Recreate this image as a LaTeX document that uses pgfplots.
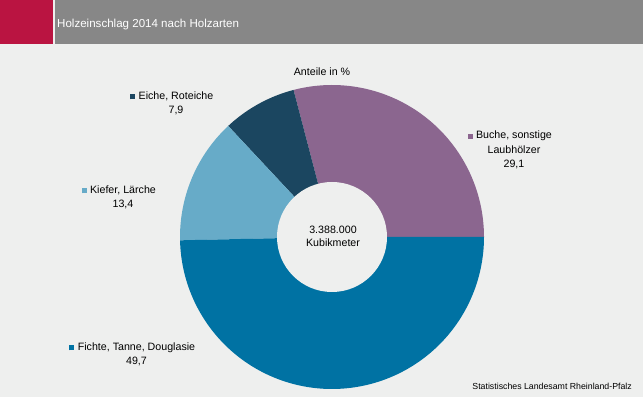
\documentclass[border=0pt]{standalone}
\usepackage{pgfplots}
\pgfplotsset{compat=1.18}
\usepackage{fontspec}
\setmainfont{Liberation Sans}
\definecolor{bg}{HTML}{EEEFEE}
\definecolor{hgrey}{HTML}{878787}
\definecolor{hred}{HTML}{BA1441}
\definecolor{cbuche}{HTML}{8B668F}
\definecolor{ceiche}{HTML}{1B4660}
\definecolor{ckiefer}{HTML}{67ABC8}
\definecolor{cfichte}{HTML}{0072A3}
\newcommand{\sq}[1]{\llap{\textcolor{#1}{\rule{5bp}{5bp}}\hspace{3.5bp}}}
\begin{document}
\begin{tikzpicture}
% shares in percent
\def\vBuche{29.1}
\def\vEiche{7.9}
\def\vKiefer{13.4}
\def\vFichte{49.7}
\pgfmathsetmacro{\tot}{\vBuche+\vEiche+\vKiefer+\vFichte}
\pgfmathsetmacro{\aA}{\vBuche/\tot*360}
\pgfmathsetmacro{\aB}{(\vBuche+\vEiche)/\tot*360}
\pgfmathsetmacro{\aC}{(\vBuche+\vEiche+\vKiefer)/\tot*360}
\begin{axis}[scale only axis, width=643bp, height=397bp,
  xmin=0, xmax=643, ymin=0, ymax=397, axis lines=none, ticks=none, clip=false]
\fill[bg] (0,0) rectangle (643,397);
\fill[hred] (0,353) rectangle (53,397);
\fill[hgrey] (55,353) rectangle (643,397);
\node[anchor=base west, text=white, font=\fontsize{11.6}{13}\selectfont, inner sep=0pt] at (57,369) {Holzeinschlag 2014 nach Holzarten};
% donut
\addplot[fill=cbuche, draw=none, domain=0:\aA, samples=80] ({332+152*cos(x)},{160+152*sin(x)}) -- (332,160) -- cycle;
\addplot[fill=ceiche, draw=none, domain=\aA:\aB, samples=40] ({332+152*cos(x)},{160+152*sin(x)}) -- (332,160) -- cycle;
\addplot[fill=ckiefer, draw=none, domain=\aB:\aC, samples=50] ({332+152*cos(x)},{160+152*sin(x)}) -- (332,160) -- cycle;
\addplot[fill=cfichte, draw=none, domain=\aC:360, samples=120] ({332+152*cos(x)},{160+152*sin(x)}) -- (332,160) -- cycle;
\fill[bg] (332,160) circle[radius=55bp];
% texts
\begin{scope}[every node/.style={font=\fontsize{10.7}{14.5}\selectfont, align=center, inner sep=0pt}]
\node at (322,325) {Anteile in \%};
\node at (176,293.5) {\sq{ceiche}Eiche, Roteiche\\7,9};
\node at (123,199.5) {\sq{ckiefer}Kiefer, Lärche\\13,4};
\node at (514,247) {\sq{cbuche}Buche, sonstige\\Laubhölzer\\29,1};
\node at (136.5,42.5) {\sq{cfichte}Fichte, Tanne, Douglasie\\49,7};
\node[font=\fontsize{10.7}{13}\selectfont] at (333,160.5) {3.388.000\\Kubikmeter};
\end{scope}
\node[anchor=base east, inner sep=0pt, font=\fontsize{8.8}{9}\selectfont] at (632,8) {Statistisches Landesamt Rheinland-Pfalz};
\end{axis}
\end{tikzpicture}
\end{document}
